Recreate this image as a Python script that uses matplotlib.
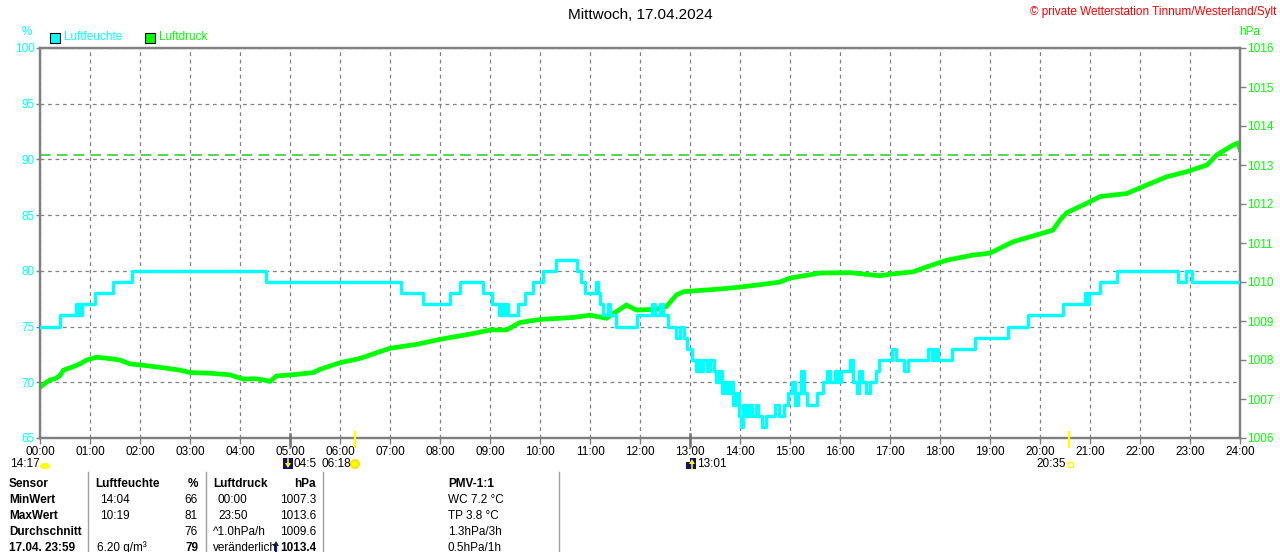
import matplotlib
matplotlib.use('Agg')
import matplotlib.pyplot as plt
from matplotlib.patches import Rectangle, Ellipse, Polygon, Wedge
from matplotlib.lines import Line2D

plt.rcParams['font.family'] = ['Liberation Sans', 'DejaVu Sans']

# Luftfeuchte (%), step values, time in hours
hum_hours = [0.00, 0.40, 0.72, 0.76, 0.78, 0.80, 0.83, 1.10, 1.45, 1.83, 4.51,
             7.22, 7.66, 8.20, 8.40, 8.86, 9.04, 9.18, 9.22, 9.26, 9.30, 9.36,
             9.56, 9.70, 9.86, 10.06, 10.32, 10.74, 10.82, 10.90, 11.12, 11.16,
             11.20, 11.26, 11.36, 11.40, 11.52, 11.94, 12.24, 12.30, 12.40, 12.46,
             12.56, 12.72, 12.80, 12.88, 12.94, 13.04, 13.12, 13.16, 13.20, 13.26,
             13.34, 13.40, 13.48, 13.52, 13.58, 13.64, 13.68, 13.74, 13.80, 13.86,
             13.92, 13.98, 14.02, 14.06, 14.12, 14.18, 14.24, 14.32, 14.36, 14.44,
             14.52, 14.54, 14.70, 14.78, 14.88, 14.96, 15.04, 15.10, 15.16, 15.22,
             15.28, 15.34, 15.54, 15.66, 15.74, 15.80, 15.90, 15.96, 16.02, 16.20,
             16.26, 16.34, 16.38, 16.44, 16.52, 16.60, 16.72, 16.78, 17.04, 17.12,
             17.28, 17.36, 17.76, 17.84, 17.90, 17.96, 18.24, 18.70, 19.36, 19.76,
             20.46, 20.90, 20.94, 20.98, 21.20, 21.54, 22.76, 22.92, 23.04, 24.00]
hum_values = [75, 76, 77, 76, 77, 76, 77, 78, 79, 80, 79,
              78, 77, 78, 79, 78, 77, 76, 77, 76, 77, 76,
              77, 78, 79, 80, 81, 80, 79, 78, 79, 78,
              77, 76, 77, 76, 75, 76, 77, 76, 77, 76,
              75, 74, 75, 74, 73, 72, 71, 72, 71, 72,
              71, 72, 71, 70, 71, 69, 70, 69, 70, 68,
              69, 67, 66, 68, 67, 68, 67, 68, 67, 66,
              67, 67, 68, 67, 68, 69, 70, 68, 69, 71,
              69, 68, 69, 70, 71, 70, 71, 70, 71, 72,
              70, 69, 71, 70, 69, 70, 71, 72, 73, 72,
              71, 72, 73, 72, 73, 72, 73, 74, 75, 76,
              77, 78, 77, 78, 79, 80, 79, 80, 79, 79]

# Luftdruck (hPa)
press_hours = [0.00, 0.10, 0.20, 0.30, 0.40, 0.47, 0.67, 0.80, 0.93, 1.13, 1.30,
               1.60, 1.80, 2.10, 2.47, 2.80, 3.00, 3.40, 3.80, 4.07, 4.30, 4.47,
               4.60, 4.73, 5.13, 5.47, 5.60, 6.00, 6.40, 7.00, 7.53, 8.00, 8.67,
               9.00, 9.33, 9.60, 10.00, 10.67, 11.00, 11.33, 11.53, 11.73, 11.93,
               12.33, 12.53, 12.73, 12.87, 13.16, 13.60, 14.00, 14.40, 14.80, 15.00,
               15.60, 16.20, 16.80, 17.00, 17.46, 17.74, 18.14, 18.66, 19.00, 19.46,
               19.94, 20.26, 20.40, 20.54, 20.94, 21.20, 21.74, 22.14, 22.54, 22.94,
               23.34, 23.54, 23.86, 23.96, 24.00]
press_values = [1007.30, 1007.40, 1007.49, 1007.52, 1007.60, 1007.74, 1007.83, 1007.90,
                1008.00, 1008.07, 1008.05, 1008.00, 1007.90, 1007.86, 1007.80, 1007.74,
                1007.68, 1007.66, 1007.62, 1007.51, 1007.52, 1007.49, 1007.45, 1007.59,
                1007.63, 1007.68, 1007.76, 1007.93, 1008.04, 1008.30, 1008.40, 1008.53,
                1008.68, 1008.77, 1008.77, 1008.96, 1009.04, 1009.09, 1009.15, 1009.07,
                1009.24, 1009.41, 1009.28, 1009.30, 1009.37, 1009.67, 1009.75, 1009.78,
                1009.82, 1009.87, 1009.93, 1010.00, 1010.10, 1010.23, 1010.24, 1010.16,
                1010.20, 1010.26, 1010.39, 1010.56, 1010.69, 1010.74, 1011.03, 1011.21,
                1011.33, 1011.59, 1011.78, 1012.02, 1012.19, 1012.27, 1012.49, 1012.70,
                1012.83, 1013.00, 1013.26, 1013.51, 1013.56, 1013.40]

hour_ticks = list(range(25))
hour_labels = ['%02d:00' % h for h in hour_ticks]
hum_ticks = [65, 70, 75, 80, 85, 90, 95, 100]
press_ticks = list(range(1006, 1017))

# Tabelle unten
row_names = ['Sensor', 'MinWert', 'MaxWert', 'Durchschnitt', '17.04. 23:59']
hum_times = ['Luftfeuchte', '14:04', '10:19', '', '6.20 g/m³']
hum_stats = ['%', '66', '81', '76', '79']
press_times = ['Luftdruck', '00:00', '23:50', '^1.0hPa/h', 'veränderlich']
press_stats = ['hPa', '1007.3', '1013.6', '1009.6', '1013.4']
pmv_texts = ['PMV-1:1', 'WC 7.2 °C', 'TP 3.8 °C', '1.3hPa/3h', '0.5hPa/1h']

CYAN = '#00FFFF'
GREEN = '#00FF00'
GRAY = '#808080'
W, H = 1280, 552


def fx(x):
    return x / W


def fy(y):
    return 1 - y / H


def ptext(x, y, s, **kw):
    kw.setdefault('fontsize', 8.5)
    kw.setdefault('va', 'center')
    fig.text(fx(x), fy(y), s, **kw)


fig = plt.figure(figsize=(12.8, 5.52), dpi=100)
rect = [fx(40), fy(438), 1200 / W, 390 / H]

ax = fig.add_axes(rect)
ax.set_xlim(0, 24)
ax.set_ylim(65, 100)
ax.set_xticks(hour_ticks)
ax.set_xticklabels(hour_labels)
ax.set_yticks(hum_ticks)
ax.grid(True, color=GRAY, linestyle=(0, (3, 3)), linewidth=0.9)
ax.tick_params(axis='y', colors=GRAY, labelcolor=CYAN, labelsize=8.5,
               length=3, width=1, pad=1)
ax.tick_params(axis='x', colors=GRAY, labelcolor='black', labelsize=8.5,
               length=4, width=1, pad=2)
for sp in ax.spines.values():
    sp.set_color(GRAY)
    sp.set_linewidth(1.6)

ax2 = ax.twinx()
ax2.set_ylim(1006, 1016)
ax2.set_yticks(press_ticks)
ax2.tick_params(axis='y', colors=GRAY, labelcolor=GREEN, labelsize=8.5,
                length=4, width=1, pad=1)
for sp in ax2.spines.values():
    sp.set_color(GRAY)
    sp.set_linewidth(1.6)
ax2.axhline(1013.25, xmax=0.992, color='#22CC22', linewidth=1.1,
            dashes=(7, 4))
ax2.plot(press_hours, press_values, color=GREEN, linewidth=3.4,
         solid_joinstyle='miter')

# humidity line on top of the pressure line
ax3 = fig.add_axes(rect, sharex=ax)
ax3.set_ylim(65, 100)
ax3.axis('off')
ax3.patch.set_visible(False)
ax3.plot(hum_hours, hum_values, color=CYAN, linewidth=2.4,
         drawstyle='steps-post')

# Titel, Copyright, Achsen-Einheiten, Legende
ptext(640, 15, 'Mittwoch, 17.04.2024', fontsize=11, ha='center')
ptext(1276, 12, '© private Wetterstation Tinnum/Westerland/Sylt',
      color='red', ha='right')
ptext(27, 32, '%', color=CYAN, ha='center')
ptext(1250, 32, 'hPa', color=GREEN, ha='center')
fig.patches.append(Rectangle((fx(50), fy(43)), 10 / W, 10 / H,
                             facecolor=CYAN, edgecolor='black', linewidth=0.8,
                             transform=fig.transFigure))
ptext(64, 37, 'Luftfeuchte', color=CYAN)
fig.patches.append(Rectangle((fx(145), fy(43)), 10 / W, 10 / H,
                             facecolor=GREEN, edgecolor='black', linewidth=0.8,
                             transform=fig.transFigure))
ptext(159, 37, 'Luftdruck', color=GREEN)

# Sonnen- und Mondzeiten
for x in [355, 1069]:
    fig.lines.append(Line2D([fx(x), fx(x)], [fy(432), fy(447)], color='#FFFF00',
                            linewidth=1.6, transform=fig.transFigure))
for x in [290, 690]:
    fig.lines.append(Line2D([fx(x), fx(x)], [fy(434), fy(446)], color='#707070',
                            linewidth=1.8, transform=fig.transFigure))
ptext(10, 464, '14:17')
fig.patches.append(Wedge((fx(45), fy(468)), 5 / W, 0, 180, facecolor='#FFFF00',
                         edgecolor='none', transform=fig.transFigure))
fig.patches.append(Ellipse((fx(45), fy(466)), 10 / W, 6 / H, facecolor='#FFFF00',
                           edgecolor='none', transform=fig.transFigure))
fig.patches.append(Rectangle((fx(283), fy(469)), 10 / W, 11 / H,
                             facecolor='#101070', edgecolor='none',
                             transform=fig.transFigure))
fig.patches.append(Polygon([(fx(285), fy(463)), (fx(291), fy(463)), (fx(288), fy(468))],
                           facecolor='#FFFF00', transform=fig.transFigure))
fig.lines.append(Line2D([fx(288), fx(288)], [fy(459), fy(464)], color='#FFFF00',
                        linewidth=1.2, transform=fig.transFigure))
ptext(293, 464, '04:5')
ptext(322, 464, '06:18')
fig.patches.append(Ellipse((fx(355), fy(464)), 8 / W, 8 / H, facecolor='#FFFF00',
                           edgecolor='#FFE000', linewidth=1.5,
                           transform=fig.transFigure))
fig.patches.append(Rectangle((fx(686), fy(469)), 10 / W, 11 / H,
                             facecolor='#101070', edgecolor='none',
                             transform=fig.transFigure))
fig.patches.append(Polygon([(fx(689), fy(464)), (fx(695), fy(464)), (fx(692), fy(459))],
                           facecolor='#FFFF00', transform=fig.transFigure))
fig.lines.append(Line2D([fx(692), fx(692)], [fy(463), fy(469)], color='#FFFF00',
                        linewidth=1.2, transform=fig.transFigure))
fig.patches.append(Rectangle((fx(686), fy(462)), 4 / W, 4 / H,
                             facecolor='white', edgecolor='none',
                             transform=fig.transFigure))
ptext(697, 464, '13:01')
ptext(1036, 464, '20:35')
fig.patches.append(Rectangle((fx(1068), fy(467)), 5 / W, 5 / H,
                             facecolor='none', edgecolor='#FFFF00', linewidth=1,
                             transform=fig.transFigure))

# Tabelle
for x in [88, 206, 323, 559]:
    fig.lines.append(Line2D([fx(x), fx(x)], [fy(472), fy(552)], color='#A0A0A0',
                            linewidth=1, transform=fig.transFigure))
row_y = [484, 500, 516, 532, 548]
for i, y in enumerate(row_y):
    head = i == 0
    ptext(9, y, row_names[i], fontweight='bold')
    ptext(95 if head else (97 if i == 4 else 100), y, hum_times[i],
          fontweight='bold' if head else 'normal')
    ptext(198, y, hum_stats[i], ha='right',
          fontweight='bold' if head or i == 4 else 'normal')
    ptext(213 if head or i >= 3 else 218, y, press_times[i],
          fontweight='bold' if head else 'normal')
    ptext(316, y, press_stats[i], ha='right',
          fontweight='bold' if head or i == 4 else 'normal')
    ptext(448, y, pmv_texts[i], fontweight='bold' if head else 'normal')

# Tendenz-Pfeil neben "veränderlich"
fig.lines.append(Line2D([fx(276), fx(276)], [fy(544), fy(552)], color='#102060',
                        linewidth=1.6, transform=fig.transFigure))
fig.patches.append(Polygon([(fx(273), fy(546)), (fx(279), fy(546)), (fx(276), fy(541))],
                           facecolor='#102060', edgecolor='none',
                           transform=fig.transFigure))

fig.savefig('out.png', dpi=100)
